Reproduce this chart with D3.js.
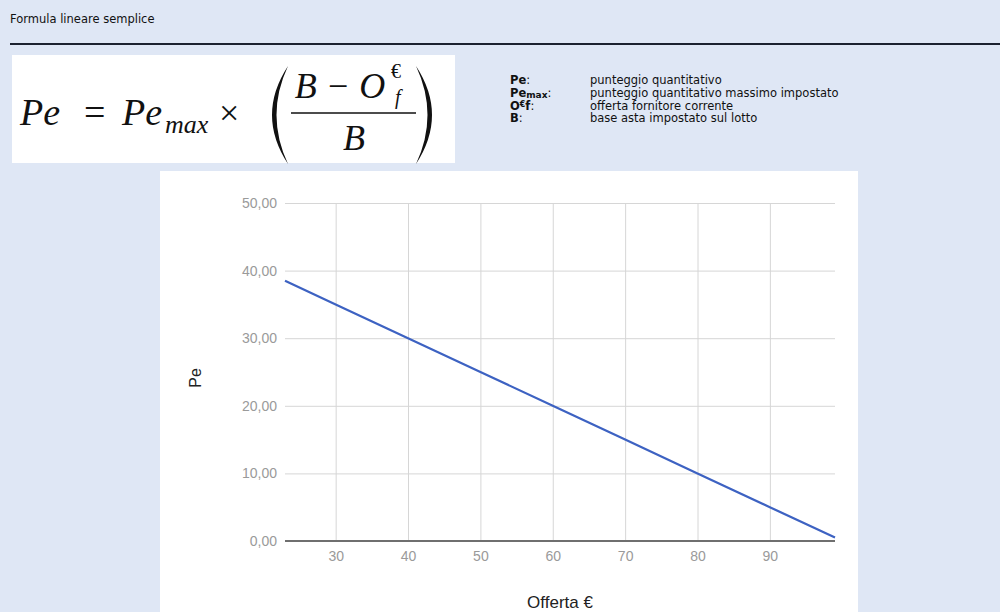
<!DOCTYPE html>
<html>
<head>
<meta charset="utf-8">
<script src="https://cdn.jsdelivr.net/npm/d3@7"></script>
<style>
  html, body { margin: 0; padding: 0; background: #dfe7f5; overflow: hidden; }
  svg { display: block; }
</style>
</head>
<body>
<svg id="chart" width="1000" height="612"></svg>
<script>
// values
const offerValues = [23, 30, 40, 50, 60, 70, 80, 90, 99];
const peValues = [38.5, 35, 30, 25, 20, 15, 10, 5, 0.5];
const xTickValues = [30, 40, 50, 60, 70, 80, 90];
const yTickValues = [0, 10, 20, 30, 40, 50];
const legendKeys = ["Pe:", "Pe_max:", "O€f:", "B:"];
const legendTexts = [
  "punteggio quantitativo",
  "punteggio quantitativo massimo impostato",
  "offerta fornitore corrente",
  "base asta impostato sul lotto"
];

const svg = d3.select("#chart");
const uiFont = "'DejaVu Sans', Tahoma, sans-serif";
const mathFont = "'Liberation Serif', 'DejaVu Serif', serif";

// header
svg.append("text")
  .attr("x", 10).attr("y", 23)
  .style("font-family", uiFont).style("font-size", "11.5px").style("fill", "#111")
  .text("Formula lineare semplice");

svg.append("line")
  .attr("x1", 10).attr("x2", 1000).attr("y1", 44).attr("y2", 44)
  .attr("stroke", "#1c2230").attr("stroke-width", 2);

// formula box
svg.append("rect")
  .attr("x", 12).attr("y", 55).attr("width", 443).attr("height", 108)
  .attr("fill", "#fff");

const f = svg.append("g")
  .style("font-family", mathFont).style("fill", "#111");

function mtext(x, y, size, str, italic = true, anchor = "start") {
  return f.append("text")
    .attr("x", x).attr("y", y)
    .attr("text-anchor", anchor)
    .style("font-size", size + "px")
    .style("font-style", italic ? "italic" : "normal")
    .text(str);
}
mtext(20, 125, 38, "Pe");
mtext(84, 125, 38, "=", false);
mtext(122, 125, 38, "Pe");
mtext(165, 133, 26, "max");
mtext(219, 125, 36, "×", false);
mtext(340, 98, 36, "B − O", true, "middle");
mtext(391, 78, 20, "€", false);
mtext(395, 104, 20, "f");
f.append("line")
  .attr("x1", 291).attr("x2", 416).attr("y1", 113).attr("y2", 113)
  .attr("stroke", "#111").attr("stroke-width", 1.6);
mtext(354, 150, 36, "B", true, "middle");

// big parentheses
f.append("path").attr("d", "M288,66 Q256,115 288,164 Q265,115 288,66 Z").attr("fill", "#111");
f.append("path").attr("d", "M416,66 Q448,115 416,164 Q439,115 416,66 Z").attr("fill", "#111");

// legend
const lg = svg.append("g").style("font-family", uiFont).style("font-size", "11.5px").style("fill", "#111");
legendKeys.forEach((k, i) => {
  const y = 84 + i * 12.8;
  const t = lg.append("text").attr("x", 510).attr("y", y).style("font-weight", "bold");
  if (k === "Pe_max:") {
    t.append("tspan").text("Pe");
    t.append("tspan").style("font-size", "9px").attr("dy", 1).text("max");
    t.append("tspan").style("font-weight", "normal").attr("dy", -1).text(":");
  } else if (k === "O€f:") {
    t.append("tspan").text("O");
    t.append("tspan").style("font-size", "8px").attr("dy", -3).text("€");
    t.append("tspan").attr("dy", 3).text("f");
    t.append("tspan").style("font-weight", "normal").text(":");
  } else {
    t.append("tspan").text(k.replace(":", ""));
    t.append("tspan").style("font-weight", "normal").text(":");
  }
  lg.append("text").attr("x", 590).attr("y", y).text(legendTexts[i]);
});

// chart panel
svg.append("rect")
  .attr("x", 160).attr("y", 171).attr("width", 698).attr("height", 460)
  .attr("fill", "#fff");

const plot = { left: 285, right: 835, top: 203, bottom: 541 };
const x = d3.scaleLinear().domain([23, 99]).range([plot.left, plot.right]);
const y = d3.scaleLinear().domain([0, 50]).range([plot.bottom, plot.top]);

const it = d3.formatLocale({ decimal: ",", thousands: ".", grouping: [3], currency: ["", "€"] });
const yFmt = it.format(".2f");

const chartFont = "'Liberation Sans', Arial, sans-serif";

// grid
const xGrid = svg.append("g")
  .attr("transform", `translate(0,${plot.bottom})`)
  .call(d3.axisBottom(x).tickValues(xTickValues).tickSize(-(plot.bottom - plot.top)).tickFormat(d => d).tickPadding(10));
xGrid.select(".domain").remove();
xGrid.selectAll(".tick line").attr("stroke", "#d6d6d6");
xGrid.selectAll(".tick text")
  .attr("fill", "#9a9a9a").style("font-family", chartFont).style("font-size", "14px");

const yGrid = svg.append("g")
  .attr("transform", `translate(${plot.left},0)`)
  .call(d3.axisLeft(y).tickValues(yTickValues).tickSize(-(plot.right - plot.left)).tickFormat(yFmt).tickPadding(8));
yGrid.select(".domain").remove();
yGrid.selectAll(".tick line").attr("stroke", "#d6d6d6");
yGrid.selectAll(".tick text")
  .attr("fill", "#9a9a9a").style("font-family", chartFont).style("font-size", "14px");

// baseline
svg.append("line")
  .attr("x1", plot.left).attr("x2", plot.right)
  .attr("y1", y(0)).attr("y2", y(0))
  .attr("stroke", "#6f6f6f").attr("stroke-width", 2);

// series
const pts = offerValues.map((o, i) => [o, peValues[i]]);
svg.append("path")
  .datum(pts)
  .attr("fill", "none")
  .attr("stroke", "#3d62c2")
  .attr("stroke-width", 2.2)
  .attr("d", d3.line().x(d => x(d[0])).y(d => y(d[1])));

// axis titles
svg.append("text")
  .attr("transform", `translate(201,${(plot.top + plot.bottom) / 2 + 6}) rotate(-90)`)
  .attr("text-anchor", "middle")
  .style("font-family", chartFont).style("font-size", "16px").style("fill", "#222")
  .text("Pe");

svg.append("text")
  .attr("x", (plot.left + plot.right) / 2).attr("y", 608)
  .attr("text-anchor", "middle")
  .style("font-family", chartFont).style("font-size", "17px").style("fill", "#222")
  .text("Offerta €");
</script>
</body>
</html>
